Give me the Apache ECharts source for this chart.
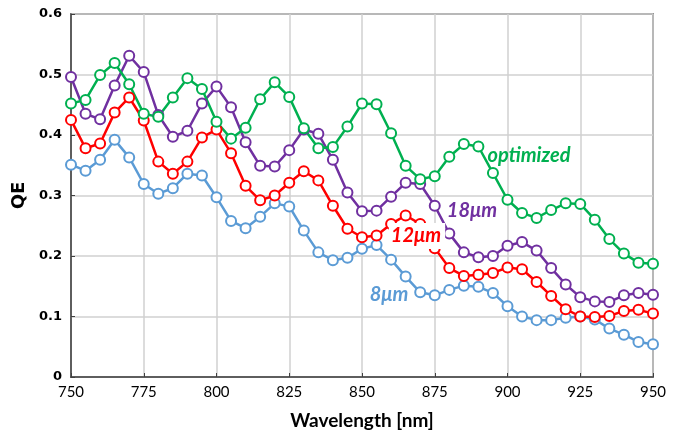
<!DOCTYPE html>
<html>
<head>
<meta charset="utf-8">
<script src="https://cdn.jsdelivr.net/npm/echarts@6/dist/echarts.min.js"></script>
<style>html,body{margin:0;padding:0;background:#fff}#c{width:678px;height:437px}</style>
</head>
<body>
<div id="c"></div>
<script>
var wavelengths = [750,755,760,765,770,775,780,785,790,795,800,805,810,815,820,825,830,835,840,845,850,855,860,865,870,875,880,885,890,895,900,905,910,915,920,925,930,935,940,945,950];
var optimized = [0.452,0.458,0.499,0.519,0.484,0.435,0.430,0.462,0.494,0.476,0.422,0.394,0.412,0.459,0.487,0.463,0.411,0.378,0.380,0.414,0.452,0.451,0.403,0.349,0.327,0.332,0.364,0.385,0.381,0.337,0.293,0.271,0.263,0.276,0.287,0.286,0.260,0.228,0.204,0.189,0.187];
var um18 = [0.496,0.435,0.426,0.482,0.531,0.504,0.433,0.397,0.407,0.452,0.480,0.446,0.388,0.349,0.348,0.375,0.409,0.402,0.359,0.305,0.274,0.275,0.298,0.321,0.319,0.283,0.237,0.206,0.198,0.200,0.217,0.223,0.209,0.180,0.153,0.132,0.125,0.124,0.135,0.139,0.136];
var um12 = [0.425,0.378,0.386,0.437,0.462,0.424,0.356,0.336,0.356,0.396,0.409,0.370,0.316,0.292,0.300,0.321,0.340,0.325,0.283,0.245,0.231,0.234,0.253,0.267,0.253,0.213,0.180,0.167,0.169,0.172,0.181,0.178,0.157,0.134,0.112,0.100,0.099,0.101,0.109,0.111,0.105];
var um8 = [0.351,0.341,0.359,0.392,0.363,0.319,0.303,0.312,0.336,0.333,0.297,0.258,0.246,0.265,0.287,0.282,0.242,0.206,0.193,0.197,0.212,0.218,0.194,0.166,0.140,0.135,0.144,0.151,0.149,0.139,0.117,0.100,0.094,0.094,0.098,0.100,0.095,0.080,0.070,0.058,0.054];

function pairs(vals){ return wavelengths.map(function(w,i){ return [w, vals[i]]; }); }
function mk(name, vals, color){
  return {
    name: name, type: 'line', data: pairs(vals),
    symbol: 'emptyCircle', symbolSize: 10,
    lineStyle: {color: color, width: 2.5},
    itemStyle: {color: color, borderColor: color, borderWidth: 1},
    emphasis: {disabled: true}, animation: false
  };
}
var chart = echarts.init(document.getElementById('c'));
var labelFont = 'Lato, "Open Sans", sans-serif';
chart.setOption({
  animation: false,
  grid: {left: 71, right: 25, top: 14, bottom: 60, outerBoundsMode: 'none', containLabel: false, show: true, borderColor: '#404040', borderWidth: 1.5, backgroundColor: 'transparent'},
  xAxis: {
    type: 'value', min: 750, max: 950, interval: 25,
    name: 'Wavelength [nm]', nameLocation: 'middle', nameGap: 34,
    nameTextStyle: {fontFamily: labelFont, fontWeight: 'bold', fontSize: 19, color: '#000'},
    axisLine: {show: true, lineStyle: {color: '#404040', width: 1.5}},
    axisTick: {show: true, inside: true, length: 4, lineStyle: {color: '#404040', width: 1}},
    axisLabel: {fontFamily: labelFont, fontSize: 15, color: '#000', margin: 8},
    splitLine: {show: true, lineStyle: {color: '#D0D0D0', width: 1.5}}
  },
  yAxis: {
    type: 'value', min: 0, max: 0.6, interval: 0.1,
    name: 'QE', nameLocation: 'middle', nameGap: 38, nameRotate: 90,
    nameTextStyle: {fontFamily: '"DejaVu Sans", sans-serif', fontWeight: 'bold', fontSize: 18, color: '#000'},
    axisLine: {show: true, lineStyle: {color: '#404040', width: 1.5}},
    axisTick: {show: true, inside: true, length: 4, lineStyle: {color: '#404040', width: 1}},
    axisLabel: {fontFamily: '"DejaVu Sans", sans-serif', fontWeight: 'bold', fontSize: 13, color: '#000', margin: 9},
    splitLine: {show: true, lineStyle: {color: '#D0D0D0', width: 1.5}}
  },
  series: [
    mk('8μm', um8, '#5B9BD5'),
    mk('12μm', um12, '#FF0000'),
    mk('18μm', um18, '#7030A0'),
    mk('optimized', optimized, '#00B050')
  ],
  graphic: [
    {type: 'text', z: 100, x: 529, y: 156, style: {text: 'optimized', fill: '#00B050', font: 'italic bold 20px ' + labelFont, align: 'center', verticalAlign: 'middle'}},
    {type: 'text', z: 100, x: 472, y: 211, style: {text: '18μm', fill: '#7030A0', font: 'italic bold 20px ' + labelFont, align: 'center', verticalAlign: 'middle'}},
    {type: 'text', z: 100, x: 417, y: 236, style: {text: '12μm', fill: '#FF0000', font: 'italic bold 20px ' + labelFont, align: 'center', verticalAlign: 'middle', backgroundColor: '#fff', padding: [1, 4, 5, 2]}},
    {type: 'text', z: 100, x: 389, y: 295, style: {text: '8μm', fill: '#5B9BD5', font: 'italic bold 20px ' + labelFont, align: 'center', verticalAlign: 'middle'}}
  ]
});
</script>
</body>
</html>
